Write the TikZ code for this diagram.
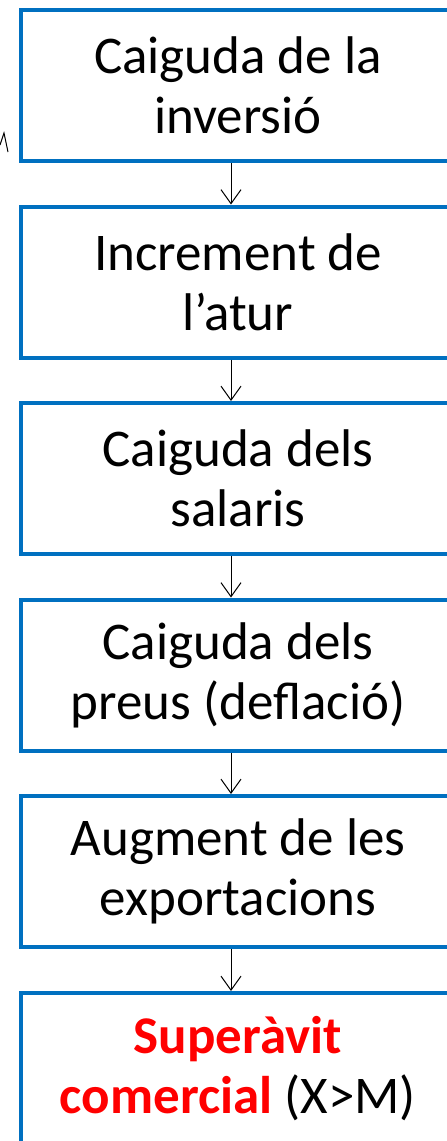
\documentclass[tikz,border=0pt]{standalone}
\usepackage{fontspec}
\setmainfont{Carlito}
\usepackage{tikz}
\usetikzlibrary{calc,arrows.meta}
\definecolor{myblue}{RGB}{0,112,192}
\definecolor{myred}{RGB}{255,0,0}

\begin{document}
\begin{tikzpicture}[x=1pt,y=-1pt,
  caixa/.style={draw=myblue, line width=4pt, fill=white, minimum width=434pt,
    minimum height=151pt, inner sep=0pt, align=center,
    font=\fontsize{53}{60}\selectfont},
  fletxa/.style={-{Straight Barb[length=14pt,width=20pt]}, line width=1pt}]
\useasboundingbox (0,0) rectangle (447,1141);

% caixes
\node[caixa] (b1) at (238,85.5) {Caiguda de la\\inversió};
\node[caixa] (b2) at (238,282) {Increment de\\l’atur};
\node[caixa] (b3) at (238,478.5) {Caiguda dels\\salaris};
\node[caixa] (b4) at (238,675) {Caiguda dels\\preus (deflació)};
\node[caixa] (b5) at (238,871.5) {Augment de les\\exportacions};
\node[caixa] (b6) at (238,1068.5) {\textbf{\color{myred}Superàvit}\\\textbf{\color{myred}comercial} (X>M)};

% fletxes
\foreach \a/\b in {b1/b2,b2/b3,b3/b4,b4/b5,b5/b6}{
  \draw[fletxa] ([xshift=-7pt]\a.south) -- ([xshift=-7pt]\b.north);
}

% punta a l'esquerra
\coordinate (p1) at (0,145);
\coordinate (p2) at (4,133);
\coordinate (p3) at (8,152);
\draw[line width=1pt] (p1) -- (p2) -- (p3);

\end{tikzpicture}
\end{document}
